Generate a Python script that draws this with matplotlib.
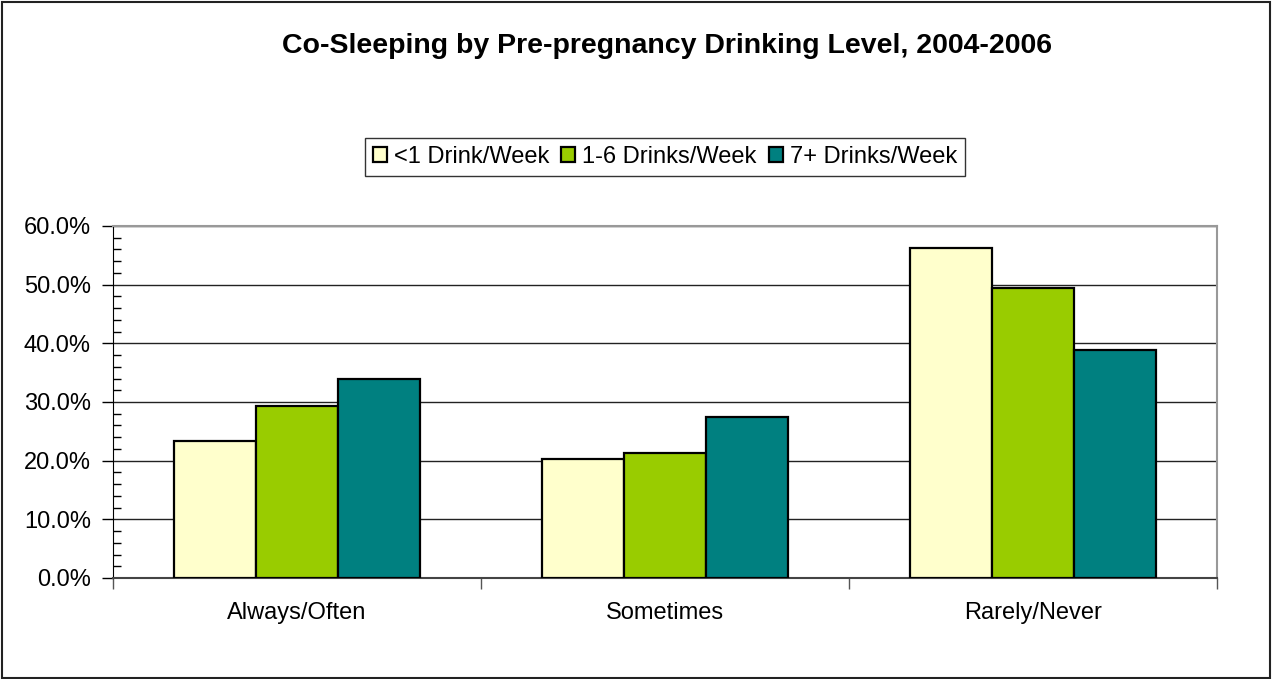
import numpy as np
import matplotlib.pyplot as plt
from matplotlib.patches import Rectangle
from matplotlib.ticker import MultipleLocator, FuncFormatter

# data (percent)
categories = ['Always/Often', 'Sometimes', 'Rarely/Never']
series_names = ['<1 Drink/Week', '1-6 Drinks/Week', '7+ Drinks/Week']
lt1_drink = [23.4, 20.3, 56.2]
drinks_1_6 = [29.3, 21.3, 49.4]
drinks_7plus = [33.9, 27.4, 38.9]
colors = ['#FFFFCC', '#99CC00', '#008080']

plt.rcParams['font.family'] = ['Liberation Sans', 'DejaVu Sans']

fig = plt.figure(figsize=(12.72, 6.79), dpi=100)
ax = fig.add_axes([113/1272, 1-578/679, (1217-113)/1272, (578-226)/679])

x = np.arange(len(categories))
w = 1/4.5
for i, (vals, name, c) in enumerate(zip([lt1_drink, drinks_1_6, drinks_7plus], series_names, colors)):
    ax.bar(x + (i-1)*w, vals, w, color=c, edgecolor='black', linewidth=1.6, label=name, zorder=3)

ax.set_xlim(-0.5, 2.5)
ax.set_ylim(0, 60)
ax.yaxis.set_major_locator(MultipleLocator(10))
ax.yaxis.set_minor_locator(MultipleLocator(2))
ax.yaxis.set_major_formatter(FuncFormatter(lambda v, p: '%.1f%%' % v))
ax.grid(axis='y', which='major', color='#222222', linewidth=1, zorder=0)

ax.set_xticks(x)
ax.set_xticklabels(categories, fontsize=17)
ax.set_xticks([-0.5, 0.5, 1.5, 2.5], minor=True)
ax.tick_params(axis='x', which='major', length=0, pad=17)
ax.tick_params(axis='x', which='minor', direction='out', length=8, width=1, color='#555555')
ax.tick_params(axis='y', which='major', direction='out', length=8, width=1, labelsize=17, pad=8)
ax.tick_params(axis='y', which='minor', direction='in', length=6, width=1)

for s in ['top', 'right']:
    ax.spines[s].set_color('#999999')
    ax.spines[s].set_linewidth(1.5)
ax.spines['left'].set_color('black')
ax.spines['bottom'].set_color('#444444')
ax.spines['bottom'].set_linewidth(1.5)

leg = ax.legend(loc='center', bbox_to_anchor=(665/1272, 1-157/679), bbox_transform=fig.transFigure,
                ncol=3, fontsize=17, frameon=True, fancybox=False, edgecolor='black',
                handlelength=0.6, handleheight=0.6, handletextpad=0.3, columnspacing=0.5,
                borderpad=0.35)
leg.get_frame().set_linewidth(1)

fig.text(667/1272, 1-46/679, 'Co-Sleeping by Pre-pregnancy Drinking Level, 2004-2006',
         ha='center', va='center', fontsize=20.5, fontweight='bold')

fig.patches.append(Rectangle((1.5/1272, 1.5/679), 1268.5/1272, 675.5/679, transform=fig.transFigure,
                             fill=False, edgecolor='#222222', linewidth=1.5))

fig.savefig('out.png', dpi=100)
